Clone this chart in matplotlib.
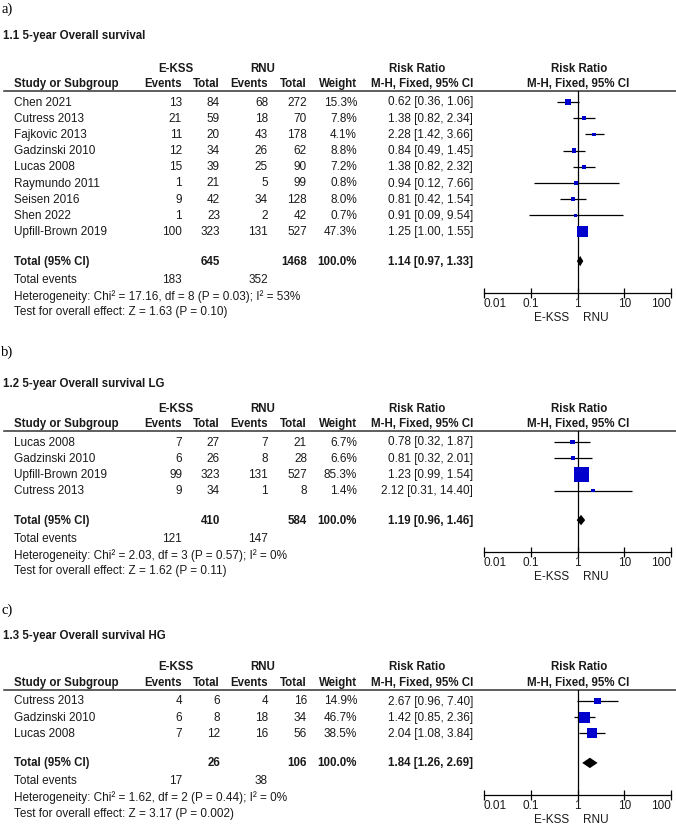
import numpy as np
import matplotlib.pyplot as plt
from matplotlib.ticker import NullLocator

plt.rcParams['font.family'] = ['Liberation Sans', 'DejaVu Sans']

# ---------------- data ----------------
# a) 1.1 5-year Overall survival
studies_a = ['Chen 2021', 'Cutress 2013', 'Fajkovic 2013', 'Gadzinski 2010', 'Lucas 2008',
             'Raymundo 2011', 'Seisen 2016', 'Shen 2022', 'Upfill-Brown 2019']
ekss_ev_a = [13, 21, 11, 12, 15, 1, 9, 1, 100]
ekss_n_a = [84, 59, 20, 34, 39, 21, 42, 23, 323]
rnu_ev_a = [68, 18, 43, 26, 25, 5, 34, 2, 131]
rnu_n_a = [272, 70, 178, 62, 90, 99, 128, 42, 527]
weight_a = [15.3, 7.8, 4.1, 8.8, 7.2, 0.8, 8.0, 0.7, 47.3]
rr_a = [0.62, 1.38, 2.28, 0.84, 1.38, 0.94, 0.81, 0.91, 1.25]
lo_a = [0.36, 0.82, 1.42, 0.49, 0.82, 0.12, 0.42, 0.09, 1.00]
hi_a = [1.06, 2.34, 3.66, 1.45, 2.32, 7.66, 1.54, 9.54, 1.55]
total_a = [183, 645, 352, 1468, 1.14, 0.97, 1.33]
het_a = 'Heterogeneity: Chi² = 17.16, df = 8 (P = 0.03); I² = 53%'
test_a = 'Test for overall effect: Z = 1.63 (P = 0.10)'

# b) 1.2 5-year Overall survival LG
studies_b = ['Lucas 2008', 'Gadzinski 2010', 'Upfill-Brown 2019', 'Cutress 2013']
ekss_ev_b = [7, 6, 99, 9]
ekss_n_b = [27, 26, 323, 34]
rnu_ev_b = [7, 8, 131, 1]
rnu_n_b = [21, 28, 527, 8]
weight_b = [6.7, 6.6, 85.3, 1.4]
rr_b = [0.78, 0.81, 1.23, 2.12]
lo_b = [0.32, 0.32, 0.99, 0.31]
hi_b = [1.87, 2.01, 1.54, 14.40]
total_b = [121, 410, 147, 584, 1.19, 0.96, 1.46]
het_b = 'Heterogeneity: Chi² = 2.03, df = 3 (P = 0.57); I² = 0%'
test_b = 'Test for overall effect: Z = 1.62 (P = 0.11)'

# c) 1.3 5-year Overall survival HG
studies_c = ['Cutress 2013', 'Gadzinski 2010', 'Lucas 2008']
ekss_ev_c = [4, 6, 7]
ekss_n_c = [6, 8, 12]
rnu_ev_c = [4, 18, 16]
rnu_n_c = [16, 34, 56]
weight_c = [14.9, 46.7, 38.5]
rr_c = [2.67, 1.42, 2.04]
lo_c = [0.96, 0.85, 1.08]
hi_c = [7.40, 2.36, 3.84]
total_c = [17, 26, 38, 106, 1.84, 1.26, 2.69]
het_c = 'Heterogeneity: Chi² = 1.62, df = 2 (P = 0.44); I² = 0%'
test_c = 'Test for overall effect: Z = 3.17 (P = 0.002)'

ticks = [0.01, 0.1, 1, 10, 100]
tick_labels = ['0.01', '0.1', '1', '10', '100']

# ---------------- layout ----------------
W, H = 676, 827
fig = plt.figure(figsize=(W / 100, H / 100), dpi=100)
tab = fig.add_axes([0, 0, 1, 1])
tab.set_xlim(0, W)
tab.set_ylim(H, 0)
tab.axis('off')

FS = 8.5      # regular text
FSB = 8.3     # bold text
INK = '#1a1a1a'
BLUE = '#0000cc'
# column right edges (px)
X_STUDY, X_EEV, X_EN, X_REV, X_RN, X_W, X_RR = 14, 182, 220, 268, 307, 357, 473
FX0, FX1 = 484, 671   # forest axis extent (px)


def txt(x, y, s, ha='right', bold=False, **kw):
    tab.text(x, y - 1, s, ha=ha, va='center_baseline', fontsize=FSB if bold else FS, color=INK,
             fontweight='bold' if bold else 'normal', **kw)


def draw_panel(label, label_y, title, title_y, h1, studies, eev, en, rev, rn, wt,
               rr, lo, hi, tot, het, test):
    tab.text(1, label_y, label, ha='left', va='center', fontsize=10.5,
             family='Liberation Serif', color='black')
    txt(3, title_y, title, ha='left', bold=True)

    h2 = h1 + 15.5
    line_y = h1 + 23
    row0 = h1 + 34
    step = 16.2
    # headers
    txt(176, h1, 'E-KSS', ha='center', bold=True)
    txt(263, h1, 'RNU', ha='center', bold=True)
    txt(417, h1, 'Risk Ratio', ha='center', bold=True)
    txt(579, h1, 'Risk Ratio', ha='center', bold=True)
    txt(X_STUDY, h2, 'Study or Subgroup', ha='left', bold=True)
    txt(X_EEV, h2, 'Events', bold=True)
    txt(X_EN, h2, 'Total', bold=True)
    txt(X_REV, h2, 'Events', bold=True)
    txt(X_RN, h2, 'Total', bold=True)
    txt(X_W, h2, 'Weight', bold=True)
    txt(X_RR, h2, 'M-H, Fixed, 95% CI', bold=True)
    txt(578, h2, 'M-H, Fixed, 95% CI', ha='center', bold=True)
    tab.plot([4, W], [line_y, line_y], color='#333333', lw=1.1)

    ys = [row0 + i * step for i in range(len(studies))]
    for y, s, a, b, c, d, w, r, l, u in zip(ys, studies, eev, en, rev, rn, wt, rr, lo, hi):
        txt(X_STUDY, y, s, ha='left')
        txt(X_EEV, y, str(a))
        txt(X_EN, y, str(b))
        txt(X_REV, y, str(c))
        txt(X_RN, y, str(d))
        txt(X_W, y, f'{w:.1f}%')
        txt(X_RR, y, f'{r:.2f} [{l:.2f}, {u:.2f}]')

    total_y = ys[-1] + 29.5
    ev_y = total_y + 18
    het_y = ev_y + 16.5
    test_y = het_y + 16
    axis_y = het_y - 2.5

    txt(X_STUDY, total_y, 'Total (95% CI)', ha='left', bold=True)
    txt(X_EN, total_y, str(tot[1]), bold=True)
    txt(X_RN, total_y, str(tot[3]), bold=True)
    txt(X_W, total_y, '100.0%', bold=True)
    txt(X_RR, total_y, f'{tot[4]:.2f} [{tot[5]:.2f}, {tot[6]:.2f}]', bold=True)
    txt(X_STUDY, ev_y, 'Total events', ha='left')
    txt(X_EEV, ev_y, str(tot[0]))
    txt(X_REV, ev_y, str(tot[2]))
    txt(X_STUDY, het_y, het, ha='left')
    txt(X_STUDY, test_y, test, ha='left')

    # forest plot
    ax = fig.add_axes([FX0 / W, 1 - axis_y / H, (FX1 - FX0) / W, (axis_y - line_y) / H])
    ax.patch.set_visible(False)
    ax.set_xscale('log')
    ax.set_xlim(0.01, 100)
    ax.set_ylim(axis_y, line_y)
    for sp in ['top', 'right', 'left']:
        ax.spines[sp].set_visible(False)
    ax.spines['bottom'].set_color('black')
    ax.spines['bottom'].set_linewidth(0.9)
    ax.set_yticks([])
    ax.set_xticks(ticks)
    ax.xaxis.set_minor_locator(NullLocator())
    ax.tick_params(axis='x', direction='inout', length=7, width=0.9,
                   labelbottom=False, color='black')
    ax.axvline(1, color='black', lw=0.9)
    tr = ax.get_xaxis_transform()
    for i, (t, lab) in enumerate(zip(ticks, tick_labels)):
        ha = 'left' if i == 0 else ('right' if i == len(ticks) - 1 else 'center')
        ax.text(t, -9.5 / (axis_y - line_y), lab, transform=tr, ha=ha,
                va='center_baseline', fontsize=FS, color=INK)
    txt(569, axis_y + 24.5, 'E-KSS')
    txt(583, axis_y + 24.5, 'RNU', ha='left')

    ax.hlines(ys, lo, hi, color='black', lw=0.9)
    sizes = [(max(3.5, 1.6 * np.sqrt(w)) * 0.72) ** 2 for w in wt]
    ax.scatter(rr, ys, s=sizes, marker='s', color=BLUE, linewidths=0, zorder=3)
    dh = 5.2
    ax.fill([tot[5], tot[4], tot[6], tot[4]], [total_y, total_y - dh, total_y, total_y + dh],
            color='black', lw=0)


draw_panel('a)', 9, '1.1 5-year Overall survival', 36, 68, studies_a, ekss_ev_a, ekss_n_a,
           rnu_ev_a, rnu_n_a, weight_a, rr_a, lo_a, hi_a, total_a, het_a, test_a)
draw_panel('b)', 352, '1.2 5-year Overall survival LG', 383, 408, studies_b, ekss_ev_b, ekss_n_b,
           rnu_ev_b, rnu_n_b, weight_b, rr_b, lo_b, hi_b, total_b, het_b, test_b)
draw_panel('c)', 610, '1.3 5-year Overall survival HG', 635, 667, studies_c, ekss_ev_c, ekss_n_c,
           rnu_ev_c, rnu_n_c, weight_c, rr_c, lo_c, hi_c, total_c, het_c, test_c)

fig.savefig('out.png', dpi=100, facecolor='white')
